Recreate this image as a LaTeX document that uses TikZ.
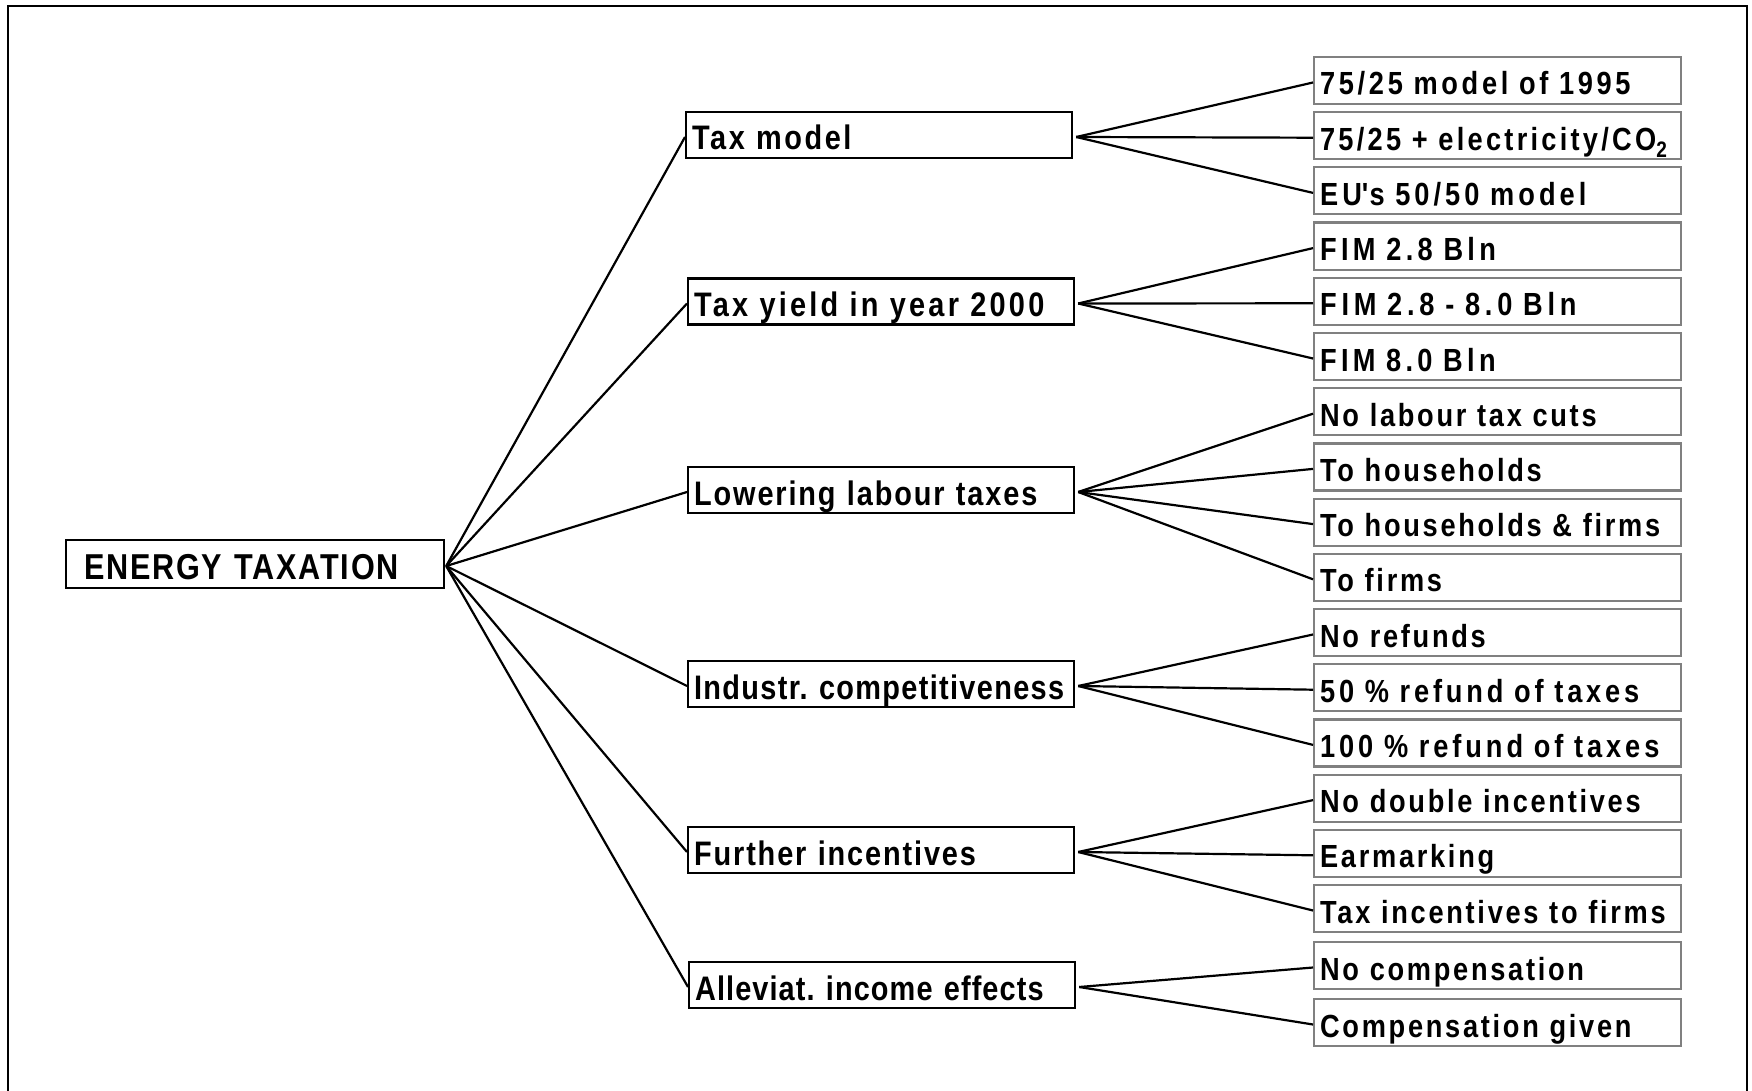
\documentclass[tikz,border=0pt]{standalone}
\usepackage{fontspec}
\newfontfamily\rootface{Liberation Sans}[FakeStretch=0.85,LetterSpace=5]
\newfontfamily\midface{Liberation Sans}[FakeStretch=0.85,LetterSpace=5.5]
\newfontfamily\leafface{Liberation Sans}[FakeStretch=0.85,LetterSpace=8.5]
\newcommand\spaced[1]{\addfontfeature{LetterSpace=#1}}
\frenchspacing
\begin{document}
\begin{tikzpicture}[x=1pt,y=-1pt,
  link/.style={line width=2.2pt,black},
  rootbox/.style={draw=black,line width=2.2pt,anchor=west,inner xsep=18pt,inner ysep=0pt,
    text width=342pt,align=left,text height=39pt,text depth=9pt,
    font=\frenchspacing\rootface\bfseries\fontsize{36}{40}\selectfont},
  midbox/.style={draw=black,line width=2.2pt,anchor=west,inner xsep=6pt,inner ysep=0pt,
    text width=374pt,align=left,text height=38pt,text depth=8pt,
    font=\frenchspacing\midface\bfseries\fontsize{34}{38}\selectfont},
  leafbox/.style={draw=black!50,line width=2.2pt,anchor=west,inner xsep=6pt,inner ysep=0pt,
    text width=355pt,align=left,text height=38pt,text depth=9pt,
    font=\frenchspacing\leafface\bfseries\fontsize{32}{36}\selectfont}]
\useasboundingbox (0,0) rectangle (1752,1091);
% outer frame, open at the bottom
\draw[line width=2.5pt] (8,1095) -- (8,6) -- (1747,6) -- (1747,1095);

% root
\node[rootbox] (root) at (65,564) {ENERGY TAXATION};

% criteria
\node[midbox] (m1) at (685,135)   {\spaced{7.5}Tax model};
\node[midbox] (m2) at (687,301.5) {\spaced{9.5}Tax yield in year 2000};
\node[midbox] (m3) at (687,490)   {Lowering labour taxes};
\node[midbox] (m4) at (687,684)   {\spaced{3.9}Industr. competitiveness};
\node[midbox] (m5) at (687,850)   {Further incentives};
\node[midbox] (m6) at (688,985)   {\spaced{3.2}Alleviat. income effects};

% options
\node[leafbox] (l1)  at (1313,80.5)  {\spaced{11.5}75/25 model of 1995};
\node[leafbox] (l2)  at (1313,135.7) {\spaced{10.2}75/25 + electricity/CO\textsubscript{2}};
\node[leafbox] (l3)  at (1313,190.9) {\spaced{12.6}EU\textquotesingle s 50/50 model};
\node[leafbox] (l4)  at (1313,246.1) {\spaced{13.6}FIM 2.8 Bln};
\node[leafbox] (l5)  at (1313,301.3) {\spaced{15}FIM 2.8 - 8.0 Bln};
\node[leafbox] (l6)  at (1313,356.5) {\spaced{13.4}FIM 8.0 Bln};
\node[leafbox] (l7)  at (1313,411.7) {No labour tax cuts};
\node[leafbox] (l8)  at (1313,466.9) {To households};
\node[leafbox] (l9)  at (1313,522.1) {To households \& firms};
\node[leafbox] (l10) at (1313,577.3) {To firms};
\node[leafbox] (l11) at (1313,632.5) {No refunds};
\node[leafbox] (l12) at (1313,687.7) {\spaced{12}50 \% refund of taxes};
\node[leafbox] (l13) at (1313,742.9) {\spaced{12.3}100 \% refund of taxes};
\node[leafbox] (l14) at (1313,798.1) {No double incentives};
\node[leafbox] (l15) at (1313,853.3) {Earmarking};
\node[leafbox] (l16) at (1313,908.5) {Tax incentives to firms};
\node[leafbox] (l17) at (1313,965.5) {No compensation};
\node[leafbox] (l18) at (1313,1022.5) {Compensation given};

% root to criteria
\foreach \m in {m1,m2,m3,m4,m5,m6}
  \draw[link] ([shift={(1,2)}]root.east) -- ([shift={(0,2)}]\m.west);

% criteria to options
\foreach \m/\ls in {m1/{l1,l2,l3},m2/{l4,l5,l6},m3/{l7,l8,l9,l10},
                    m4/{l11,l12,l13},m5/{l14,l15,l16},m6/{l17,l18}}
  \foreach \l in \ls
    \draw[link] ([shift={(3,2)}]\m.east) -- ([shift={(0,2)}]\l.west);
\end{tikzpicture}
\end{document}
